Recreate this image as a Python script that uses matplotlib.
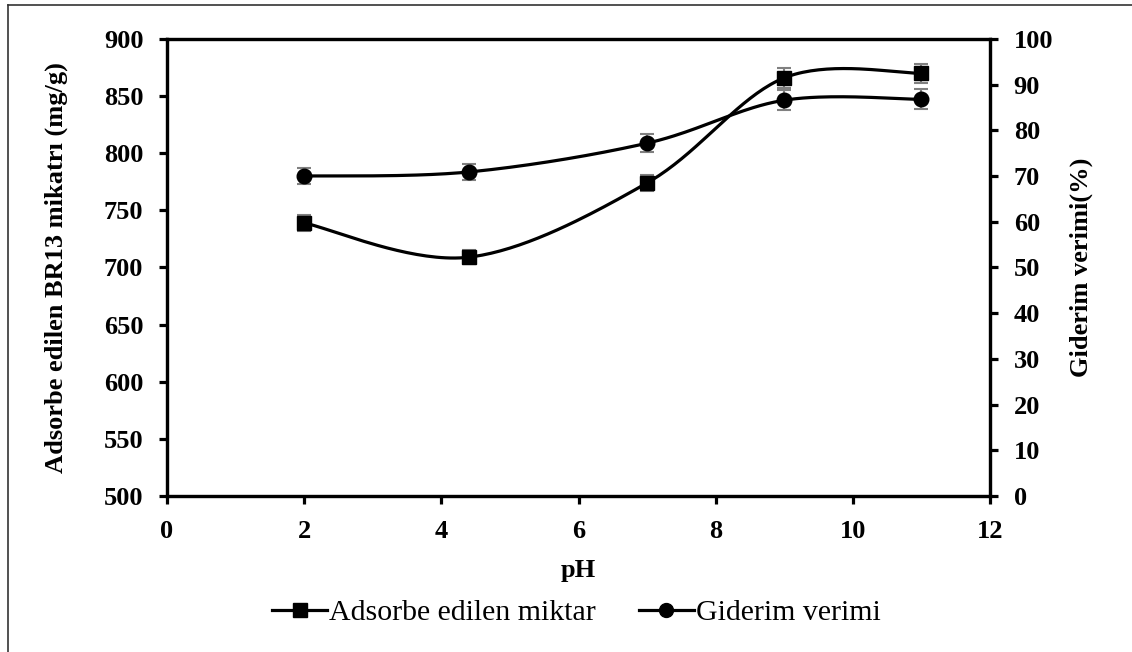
import matplotlib.pyplot as plt
from matplotlib.lines import Line2D
import numpy as np

# data
ph = [2, 4.4, 7, 9, 11]
adsorbed = [739, 709, 774, 866, 870]          # mg/g, left axis
adsorbed_err = [7, 6, 7, 8.5, 8.5]
removal = [70.0, 70.9, 77.2, 86.6, 86.8]      # %, right axis
removal_err = [1.8, 1.8, 2.0, 2.2, 2.2]

plt.rcParams['font.family'] = ['Liberation Serif', 'DejaVu Serif']


def excel_smooth(xs, ys, n=40):
    # bezier segments like excel's "smoothed line"
    xs = np.asarray(xs, float)
    ys = np.asarray(ys, float)
    px, py = [], []
    m = len(xs)
    for i in range(m - 1):
        i0 = max(i - 1, 0)
        i3 = min(i + 2, m - 1)
        p0 = np.array([xs[i], ys[i]])
        p3 = np.array([xs[i + 1], ys[i + 1]])
        p1 = p0 + (np.array([xs[i + 1], ys[i + 1]]) - np.array([xs[i0], ys[i0]])) / 6
        p2 = p3 - (np.array([xs[i3], ys[i3]]) - np.array([xs[i], ys[i]])) / 6
        t = np.linspace(0, 1, n)[:, None]
        seg = (1 - t) ** 3 * p0 + 3 * (1 - t) ** 2 * t * p1 + 3 * (1 - t) * t ** 2 * p2 + t ** 3 * p3
        px.extend(seg[:, 0])
        py.extend(seg[:, 1])
    return px, py


fig = plt.figure(figsize=(11.32, 6.52), dpi=100)
ax = fig.add_axes([0.1475, 0.2393, 0.7271, 0.7009])
ax2 = ax.twinx()

lw = 2.3
# left axis series (squares)
sx, sy = excel_smooth(ph, adsorbed)
ax.plot(sx, sy, color='black', lw=lw, zorder=3)
ax.errorbar(ph, adsorbed, yerr=adsorbed_err, fmt='none', ecolor='#808080',
            elinewidth=1.5, capsize=5, capthick=1.5, zorder=4)
ax.plot(ph, adsorbed, 's', color='black', ms=10.5, zorder=5)

# right axis series (circles)
cx, cy = excel_smooth(ph, removal)
ax2.plot(cx, cy, color='black', lw=lw, zorder=3)
ax2.errorbar(ph, removal, yerr=removal_err, fmt='none', ecolor='#808080',
             elinewidth=1.5, capsize=5, capthick=1.5, zorder=4)
ax2.plot(ph, removal, 'o', color='black', ms=10.5, zorder=5)

ax.set_xlim(0, 12)
ax.set_ylim(500, 900)
ax2.set_ylim(0, 100)
ax.set_xticks(np.arange(0, 13, 2))
ax.set_yticks(np.arange(500, 901, 50))
ax2.set_yticks(np.arange(0, 101, 10))

fs = 19
for a in (ax, ax2):
    for s in a.spines.values():
        s.set_linewidth(2.3)
    a.tick_params(direction='out', length=6, width=2.3, labelsize=fs, pad=11)
    for lab in a.get_xticklabels() + a.get_yticklabels():
        lab.set_fontweight('bold')

ax.set_xlabel('pH', fontsize=fs, fontweight='bold', labelpad=12)
ax.set_ylabel('Adsorbe edilen BR13 mikatrı (mg/g)', fontsize=fs, fontweight='bold', labelpad=26)
ax2.set_ylabel('Giderim verimi(%)', fontsize=fs, fontweight='bold', labelpad=12)

handles = [
    Line2D([], [], color='black', lw=lw, marker='s', ms=10),
    Line2D([], [], color='black', lw=lw, marker='o', ms=10),
]
fig.legend(handles, ['Adsorbe edilen miktar', 'Giderim verimi'], loc='center',
           bbox_to_anchor=(0.509, 0.06), ncol=2, frameon=False, fontsize=21.5,
           handlelength=1.85, handletextpad=0.05, columnspacing=1.45)

# outer frame (only left and top edges visible)
fig.add_artist(Line2D([0.0075, 0.0075], [0.0, 0.992], transform=fig.transFigure,
                      color='#333333', lw=1.2))
fig.add_artist(Line2D([0.0075, 1.0], [0.992, 0.992], transform=fig.transFigure,
                      color='#333333', lw=1.2))

fig.savefig('out.png', dpi=100)
